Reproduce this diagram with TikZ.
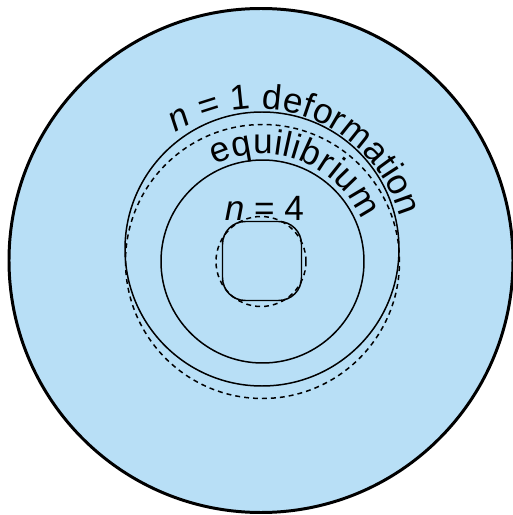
\documentclass[tikz,border=0pt]{standalone}
\usepackage{fontspec}
\setmainfont{Liberation Sans}
\definecolor{modeblue}{RGB}{184,223,246}
\usetikzlibrary{decorations.text}
\newcommand{\lblfont}{\fontsize{20}{24}\selectfont}

\begin{document}
\begin{tikzpicture}[x=0.02cm, y=0.02cm,
  thinline/.style={line width=0.85pt},
  eqline/.style={line width=0.85pt, dash pattern=on 2.8pt off 2.3pt},
  arclabel/.style={decorate, decoration={text along path, text align=fit to path, text={#1}}}]
  \useasboundingbox (0,0) rectangle (513,515);

  %% plasma cross-section
  \draw[line width=1.7pt, fill=modeblue] (261,254.5) circle[radius=252];

  %% n = 1 mode: shifted surface and equilibrium surface
  \draw[thinline] (262,266) circle[radius=137];
  \draw[eqline] (262.5,253.5) circle[radius=137];

  %% inner surface
  \draw[thinline] (262.5,253.5) circle[radius=101.5];

  %% n = 4 mode
  \draw[eqline] (261,253.5) circle[radius=45];
  \draw[thinline, rounded corners=13] (222.5,214.5) rectangle (301.5,293.5);

  %% labels
  \path[arclabel={|\lblfont\itshape|n|\lblfont| = 1 deformation}]
    (257,257) ++(123:149) arc[start angle=123, end angle=16, radius=149];
  \path[arclabel={|\lblfont|equilibrium}]
    (262,253) ++(116:108) arc[start angle=116, end angle=23, radius=108];
  \node[font=\lblfont, anchor=base, inner sep=0pt] (nfour) at (264.5,295) {\textit{n} = 4};
\end{tikzpicture}
\end{document}
